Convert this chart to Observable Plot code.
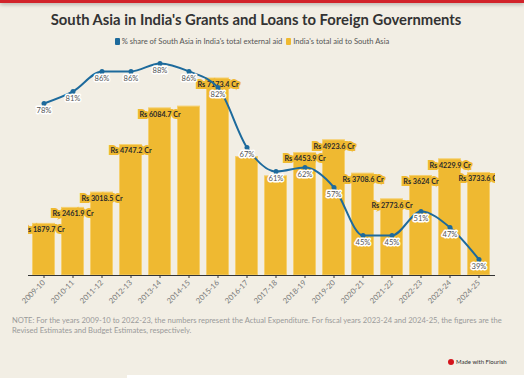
<!DOCTYPE html>
<html><head><meta charset="utf-8">
<script src="https://cdn.jsdelivr.net/npm/d3@7"></script>
<script src="https://cdn.jsdelivr.net/npm/@observablehq/plot@0.6"></script>
<style>
html,body{margin:0;padding:0;background:#f2eee4;width:524px;height:378px;overflow:hidden;font-family:Lato,"Open Sans",sans-serif;}
#strip{position:absolute;left:0;top:0;width:524px;height:3px;background:#d2232a;box-shadow:0 1px 4px rgba(0,0,0,0.35);}
#title{position:absolute;top:10px;left:0;width:512px;text-align:center;font-weight:bold;font-size:14.8px;color:#333;}
#legend{position:absolute;top:36px;left:0;width:504px;text-align:center;font-size:7.6px;color:#555;}
.sw{display:inline-block;width:5px;height:7px;border-radius:1px;vertical-align:-1px;margin-right:2px;}
#chart{position:absolute;top:52px;left:0;}
#note{position:absolute;top:315px;left:12px;width:498px;font-size:7.6px;line-height:10px;color:#9a9a9a;}
#footer{position:absolute;top:358px;left:448px;font-size:6px;color:#333;}
.dot{display:inline-block;width:6px;height:6px;border-radius:3px;background:#d4141c;vertical-align:-1px;margin-right:2px;}
#white{position:absolute;left:127px;top:375px;width:397px;height:3px;background:#fff;}
</style></head>
<body>
<div id="strip"></div>
<div id="title">South Asia in India's Grants and Loans to Foreign Governments</div>
<div id="legend"><span class="sw" style="background:#1d6a9c"></span>% share of South Asia in India's total external aid&nbsp;&nbsp;<span class="sw" style="background:#efb931"></span>India's total aid to South Asia</div>
<div id="chart"></div>
<div id="note">NOTE: For the years 2009-10 to 2022-23, the numbers represent the Actual Expenditure. For fiscal years 2023-24 and 2024-25, the figures are the Revised Estimates and Budget Estimates, respectively.</div>
<div id="footer"><span class="dot"></span>Made with Flourish</div>
<div id="white"></div>
<script>
const years = ["2009-10","2010-11","2011-12","2012-13","2013-14","2014-15","2015-16","2016-17","2017-18","2018-19","2019-20","2020-21","2021-22","2022-23","2023-24","2024-25"];
const aid = [1879.7,2461.9,3018.5,4747.2,6084.7,6150,7173.4,4310,3610,4453.9,4923.6,3708.6,2773.6,3624,4229.9,3733.6];
const share = [78,81,86,86,88,86,82,67,61,62,57,45,45,51,47,39];
const hiddenLabels = ["2014-15","2016-17","2017-18"];

const data = years.map((y,i)=>({year:y, aid:aid[i], share:share[i]}));
// secondary (percent) axis mapped onto the bar axis
const pct = d3.scaleLinear().domain([0,100]).range([-5100,9470]);

const BAR = "#efb931", LINE = "#1d6a9c";
const chart = Plot.plot({
  width:524, height:258,
  marginTop:10, marginBottom:35, marginLeft:28, marginRight:29,
  style:{background:"transparent", fontFamily:"Lato, sans-serif"},
  x:{domain:years, paddingInner:0.2, paddingOuter:0.1, label:null, tickRotate:-45, tickSize:3, tickPadding:3},
  y:{domain:[0,7756], axis:null},
  marks:[
    Plot.barY(data,{x:"year", y:"aid", fill:BAR, stroke:"#f5cf6e", strokeWidth:1, insetLeft:0.5, insetRight:0.5}),
    Plot.ruleY([0],{stroke:"#333", strokeWidth:1.2}),
    Plot.text(data.filter(d=>!hiddenLabels.includes(d.year)),{x:"year", y:"aid", text:d=>`Rs ${d.aid} Cr`, dy:6, fill:"#2a2a2a", stroke:BAR, strokeWidth:4, strokeLinejoin:"miter", fontWeight:"bold", fontSize:7.2, clip:"frame"}),
    Plot.line(data,{x:"year", y:d=>pct(d.share), curve:"monotone-x", stroke:LINE, strokeWidth:2}),
    Plot.dot(data,{x:"year", y:d=>pct(d.share), r:2.5, fill:LINE}),
    Plot.text(data,{x:"year", y:d=>pct(d.share), text:d=>`${d.share}%`, dy:7, fill:"#555", stroke:"white", strokeWidth:3, fontSize:7.6})
  ]
});
d3.select(chart).select('[aria-label="x-axis tick label"]').attr("font-size",7.6).attr("fill","#777");
d3.select(chart).select('[aria-label="x-axis tick"]').attr("stroke","#333");
document.getElementById("chart").appendChild(chart);
</script>
</body></html>
